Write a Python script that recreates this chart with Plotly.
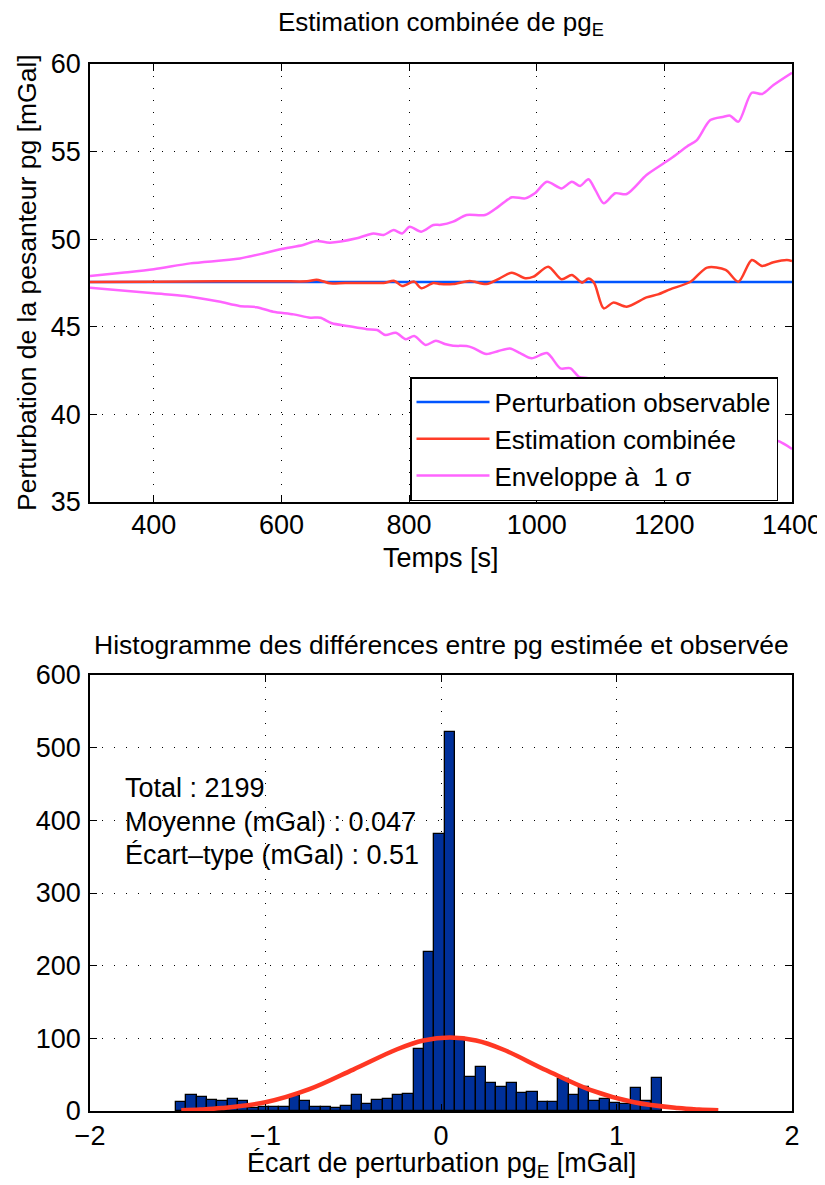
import plotly.graph_objects as go

# ---------------- data: top panel ----------------
obs_t = [300, 1400]
obs_v = [47.55, 47.55]

est_t = [300, 400, 500, 600, 640, 655, 665, 676, 700, 740, 760, 777, 789, 808, 819, 838, 849,
         869, 895, 921, 942, 961, 982, 995, 1018, 1039, 1055, 1071, 1081, 1090, 1105, 1120,
         1141, 1172, 1190, 1209, 1241, 1267, 1296, 1316, 1337, 1353, 1371, 1392, 1400]
est_v = [47.55, 47.57, 47.6, 47.6, 47.6, 47.68, 47.6, 47.48, 47.5, 47.5, 47.5, 47.62, 47.33,
         47.58, 47.2, 47.5, 47.44, 47.44, 47.61, 47.44, 47.77, 48.09, 47.77, 47.86, 48.43,
         47.71, 47.96, 47.52, 47.75, 47.5, 46.05, 46.38, 46.15, 46.68, 46.85, 47.14, 47.57,
         48.38, 48.25, 47.57, 48.81, 48.47, 48.68, 48.81, 48.75]

up_t = [300, 350, 400, 457, 535, 600, 634, 655, 676, 718, 744, 760, 776, 789, 801, 819, 838,
        850, 869, 890, 919, 940, 961, 982, 997, 1016, 1039, 1055, 1068, 1081, 1092, 1105,
        1123, 1141, 1172, 1199, 1214, 1235, 1251, 1272, 1293, 1303, 1316, 1337, 1353, 1371, 1400]
up_v = [47.9, 48.08, 48.28, 48.62, 48.9, 49.44, 49.67, 49.9, 49.8, 50.05, 50.33, 50.24, 50.52,
        50.33, 50.71, 50.43, 50.81, 50.82, 51.0, 51.38, 51.38, 51.86, 52.39, 52.33, 52.62,
        53.28, 52.9, 53.28, 53.04, 53.42, 52.8, 52.05, 52.62, 52.58, 53.66, 54.33, 54.71,
        55.28, 55.66, 56.8, 56.99, 57.05, 56.71, 58.36, 58.29, 58.8, 59.5]

lo_t = [300, 400, 449, 502, 534, 561, 587, 619, 645, 661, 679, 703, 734, 750, 763, 779, 795,
        808, 826, 842, 856, 869, 890, 900, 921, 940, 958, 974, 992, 1016, 1037, 1053, 1066,
        1081, 1092, 1105, 1123, 1141, 1172, 1199, 1214, 1235, 1251, 1272, 1293, 1316, 1337,
        1353, 1371, 1381, 1400]
lo_v = [47.23, 46.91, 46.76, 46.44, 46.19, 46.12, 45.86, 45.71, 45.52, 45.52, 45.2, 45.05,
        44.86, 44.82, 44.53, 44.66, 44.29, 44.47, 43.96, 44.21, 44.02, 43.92, 43.9, 43.8,
        43.45, 43.62, 43.76, 43.5, 43.2, 43.5, 42.63, 42.63, 42.15, 42.05, 41.8, 40.05,
        40.08, 39.72, 39.7, 39.77, 39.69, 39.72, 39.94, 39.96, 39.55, 38.43, 39.26, 38.65,
        38.56, 38.44, 38.03]

# ---------------- data: histogram ----------------
bin_start = -1.51
bin_width = 0.0589
counts = [13, 22, 19, 15, 14, 16, 14, 4, 5, 5, 6, 20, 14, 6, 6, 4, 7, 22, 10, 15, 16, 22, 24,
          86, 219, 381, 522, 101, 47, 60, 39, 33, 38, 25, 26, 13, 13,
          44, 22, 33, 14, 16, 11, 10, 32, 14, 46]
centers = [round(bin_start + bin_width * (i + 0.5), 4) for i in range(len(counts))]

fit_x = [-1.48, -1.37, -1.25, -1.0, -0.75, -0.5, -0.25, -0.1, 0.05, 0.2, 0.35, 0.6, 0.85,
         1.1, 1.35, 1.47, 1.58]
fit_y = [1, 2, 4, 12, 30, 57, 85, 97, 101, 97, 85, 56, 29, 12, 4, 2, 1]

stats_lines = ["Total : 2199", "Moyenne (mGal) : 0.047", "Écart\u2013type (mGal) : 0.51"]
stats_y = [444, 398, 352]

FONT = "Liberation Sans, Arial, Helvetica, sans-serif"
BLUE = "rgb(0,85,255)"
RED = "rgb(255,60,40)"
PINK = "rgb(255,100,255)"
FS = 27

fig = go.Figure()

fig.add_trace(go.Scatter(x=obs_t, y=obs_v, mode="lines", name="Perturbation observable",
                         line=dict(color=BLUE, width=2.5), xaxis="x", yaxis="y"))
fig.add_trace(go.Scatter(x=est_t, y=est_v, mode="lines", name="Estimation combinée",
                         line=dict(color=RED, width=2.5, shape="spline", smoothing=0.8),
                         xaxis="x", yaxis="y"))
fig.add_trace(go.Scatter(x=up_t, y=up_v, mode="lines", name="Enveloppe à  1 σ",
                         line=dict(color=PINK, width=2.5, shape="spline", smoothing=0.8),
                         xaxis="x", yaxis="y"))
fig.add_trace(go.Scatter(x=lo_t, y=lo_v, mode="lines", name="Enveloppe à  1 σ",
                         showlegend=False,
                         line=dict(color=PINK, width=2.5, shape="spline", smoothing=0.8),
                         xaxis="x", yaxis="y"))

fig.add_trace(go.Bar(x=centers, y=counts, width=bin_width, showlegend=False,
                     marker=dict(color="rgb(0,48,154)", line=dict(color="black", width=1.3)),
                     xaxis="x2", yaxis="y2"))
fig.add_trace(go.Scatter(x=fit_x, y=fit_y, mode="lines", showlegend=False,
                         line=dict(color="rgb(255,55,35)", width=4.5, shape="spline"),
                         xaxis="x2", yaxis="y2"))

# page body adds an 8px offset; the figure is sized to fill the rest of the window
OFF = 8
W, H = 825 - OFF, 1185 - OFF


def px(x):
    return (x - OFF) / W


def py(y):
    return 1 - (y - OFF) / H


xdom = [px(90), px(792)]

axis_common = dict(showline=True, mirror="ticks", linecolor="black", linewidth=1.5,
                   ticks="inside", ticklen=7, tickwidth=1.2, tickcolor="black",
                   showgrid=True, gridcolor="black", gridwidth=1, griddash="1px,11px",
                   zeroline=False, tickfont=dict(family=FONT, size=FS, color="black"))

fig.update_layout(
    width=W, height=H,
    margin=dict(l=0, r=0, t=0, b=0, autoexpand=False),
    paper_bgcolor="white", plot_bgcolor="white",
    font=dict(family=FONT, size=FS, color="black"),
    xaxis=dict(domain=xdom, anchor="y", range=[300, 1400],
               tickvals=[400, 600, 800, 1000, 1200, 1400],
               ticklabelstandoff=-2, **axis_common),
    yaxis=dict(domain=[py(502), py(64)], anchor="x", range=[35, 60], dtick=5,
               ticklabelstandoff=2, **axis_common),
    xaxis2=dict(domain=xdom, anchor="y2", range=[-2, 2], dtick=1,
                ticklabelstandoff=0, **axis_common),
    yaxis2=dict(domain=[py(1111), py(675)], anchor="x2", range=[0, 600], dtick=100,
                ticklabelstandoff=2, **axis_common),
    bargap=0,
    legend=dict(x=px(778), xanchor="right", y=py(377), yanchor="top",
                bgcolor="white", bordercolor="black", borderwidth=1.5,
                font=dict(family=FONT, size=26, color="black"),
                itemwidth=73, tracegroupgap=0),
)

ann = []
ann.append(dict(text="Estimation combinée de pg<sub>E</sub>", xref="x domain", yref="paper",
                x=0.5, y=py(23), xanchor="center", yanchor="middle", showarrow=False,
                font=dict(size=26)))
ann.append(dict(text="Temps [s]", xref="x domain", yref="paper", x=0.5, y=py(558),
                xanchor="center", yanchor="middle", showarrow=False, font=dict(size=FS)))
ann.append(dict(text="Perturbation de la pesanteur pg [mGal]", xref="paper", yref="paper",
                x=px(27), y=py(283), xanchor="center", yanchor="middle", textangle=-90,
                showarrow=False, font=dict(size=26.5)))
ann.append(dict(text="Histogramme des différences entre pg estimée et observée",
                xref="x2 domain", yref="paper", x=0.5, y=py(645), xanchor="center",
                yanchor="middle", showarrow=False, font=dict(size=26.5)))
ann.append(dict(text="Écart de perturbation pg<sub>E</sub> [mGal]", xref="x2 domain",
                yref="paper", x=0.5, y=py(1165), xanchor="center", yanchor="middle",
                showarrow=False, font=dict(size=FS)))
for txt, yy in zip(stats_lines, stats_y):
    ann.append(dict(text=txt, xref="x2", yref="y2", x=-1.81, y=yy, xanchor="left",
                    yanchor="middle", showarrow=False, font=dict(size=FS)))
fig.update_layout(annotations=ann)

fig.write_html("out.html")
